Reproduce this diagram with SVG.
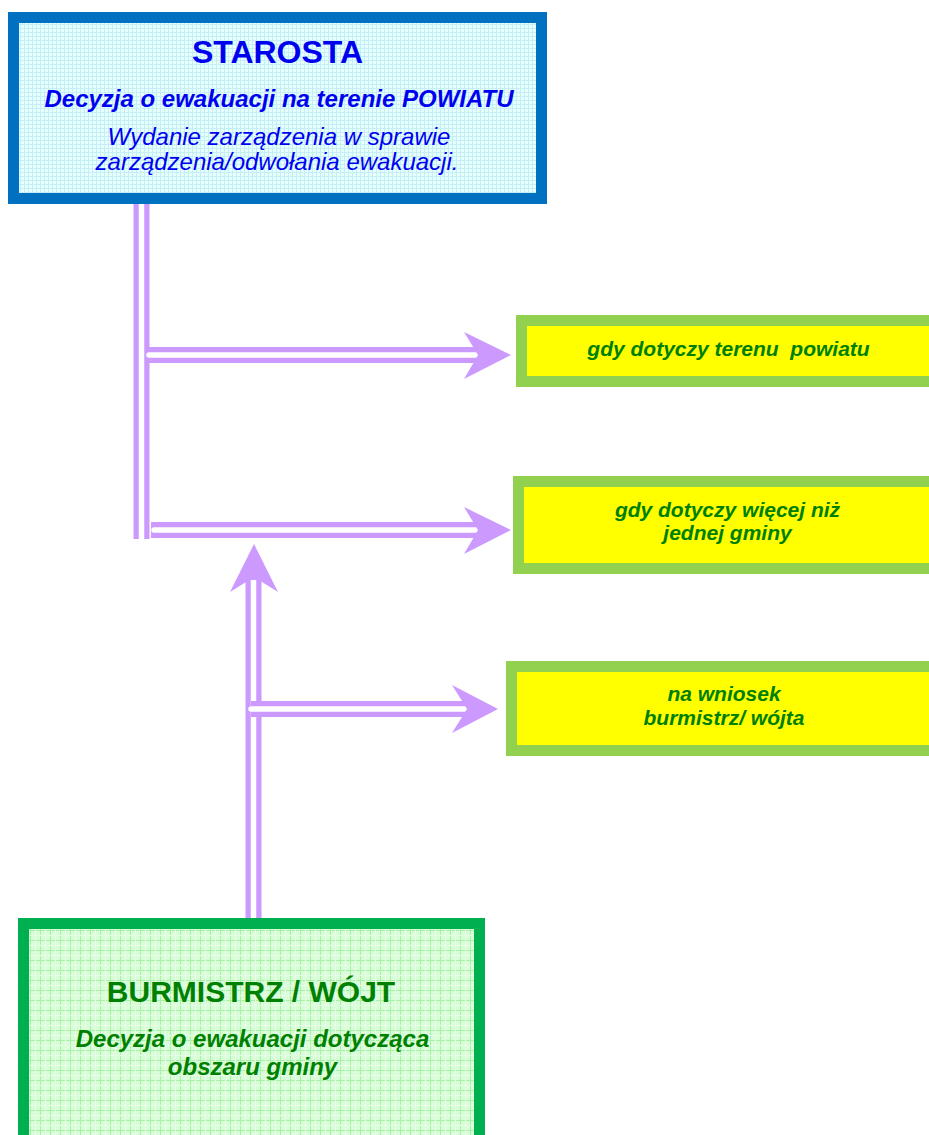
<svg xmlns="http://www.w3.org/2000/svg" width="929" height="1135" viewBox="0 0 929 1135">
<defs>
<pattern id="gridBlue" width="4" height="4" patternUnits="userSpaceOnUse">
<rect width="4" height="4" fill="#E6FFFF"/>
<path d="M0 0.5H4M0.5 0V4" stroke="#C6EEF6" stroke-width="1"/>
</pattern>
<pattern id="gridGreen" width="10" height="10" patternUnits="userSpaceOnUse">
<rect width="10" height="10" fill="#D8FDD8"/>
<path d="M0 0.5H10M0.5 0V10" stroke="#A8F2A8" stroke-width="1"/>
<path d="M0 5.5H10M5.5 0V10" stroke="#EEFFEE" stroke-width="1" stroke-dasharray="1 1"/>
</pattern>
<style>
.t{font-family:"Liberation Sans",Arial,sans-serif;text-anchor:middle}
.blue{fill:#0000F0}
.dg{fill:#008000}
.b{font-weight:bold}
.i{font-style:italic}
.shaft{stroke:#CC99FF;stroke-width:16;fill:none}
.gap{stroke:#FFFFFF;stroke-width:5.5;fill:none;stroke-linecap:round}
.head{fill:#CC99FF}
.ybox{fill:#FFFF00;stroke:#92D050;stroke-width:11}
</style>
</defs>
<rect width="929" height="1135" fill="#FFFFFF"/>

<g id="connectors">
<!-- vertical from STAROSTA -->
<line class="shaft" x1="141.5" y1="204" x2="141.5" y2="539"/>
<line x1="141.5" y1="204" x2="141.5" y2="539" stroke="#FFFFFF" stroke-width="5.5"/>
<!-- arrow 1 -->
<line class="shaft" x1="149" y1="355" x2="480" y2="355"/>
<line class="gap" x1="149" y1="355" x2="476" y2="355"/>
<polygon class="head" points="464,332 511,355 464,379 478,355"/>
<!-- arrow 2 -->
<line class="shaft" x1="151" y1="530" x2="480" y2="530"/>
<line class="gap" x1="154" y1="530" x2="476" y2="530"/>
<polygon class="head" points="464,507 511,530 464,554 478,530"/>
<!-- upward arrow from BURMISTRZ -->
<line class="shaft" x1="253.5" y1="918" x2="253.5" y2="574"/>
<line x1="253.5" y1="918" x2="253.5" y2="580" stroke="#FFFFFF" stroke-width="5.5"/>
<polygon class="head" points="254,544 278,592 254,577 230,592"/>
<!-- arrow 3 -->
<line class="shaft" x1="251" y1="709" x2="469" y2="709"/>
<line class="gap" x1="251" y1="709" x2="465" y2="709"/>
<polygon class="head" points="452,685 498,709 452,733 467,709"/>
</g>

<g id="starosta">
<rect x="13.5" y="17.5" width="528" height="181" fill="url(#gridBlue)" stroke="#0070C0" stroke-width="11"/>
<text class="t blue b" x="277.5" y="63" font-size="32">STAROSTA</text>
<text class="t blue b i" x="279" y="107" font-size="24">Decyzja o ewakuacji na terenie POWIATU</text>
<text class="t blue i" x="279" y="145" font-size="24">Wydanie zarządzenia w sprawie</text>
<text class="t blue i" x="277" y="170" font-size="24">zarządzenia/odwołania ewakuacji.</text>
</g>

<g id="powiat">
<rect class="ybox" x="521.5" y="320.5" width="414" height="61"/>
<text class="t dg b i" x="728.5" y="356" font-size="21" xml:space="preserve">gdy dotyczy terenu  powiatu</text>
</g>

<g id="gminy">
<rect class="ybox" x="518.5" y="481.5" width="417" height="87"/>
<text class="t dg b i" x="727.5" y="517" font-size="21">gdy dotyczy więcej niż</text>
<text class="t dg b i" x="727.5" y="540" font-size="21">jednej gminy</text>
</g>

<g id="wniosek">
<rect class="ybox" x="511.5" y="666.5" width="424" height="84"/>
<text class="t dg b i" x="724" y="701" font-size="21">na wniosek</text>
<text class="t dg b i" x="724" y="725" font-size="21">burmistrz/ wójta</text>
</g>

<g id="burmistrz">
<rect x="23.5" y="923.5" width="456" height="230" fill="url(#gridGreen)" stroke="#00B050" stroke-width="11"/>
<text class="t dg b" x="251" y="1002" font-size="30">BURMISTRZ / WÓJT</text>
<text class="t dg b i" x="252.5" y="1047" font-size="24">Decyzja o ewakuacji dotycząca</text>
<text class="t dg b i" x="252.5" y="1075" font-size="24">obszaru gminy</text>
</g>
</svg>
